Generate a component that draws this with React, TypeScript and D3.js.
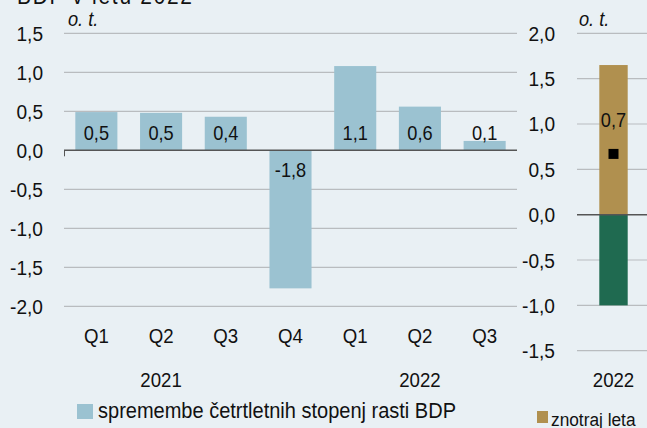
import { useEffect, useRef } from "react";
import * as d3 from "d3";

// quarterly changes of GDP growth rates
const quarters = ["Q1", "Q2", "Q3", "Q4", "Q1", "Q2", "Q3"];
const years = ["2021", "2022"];
const quarterValues = [0.49, 0.48, 0.43, -1.77, 1.08, 0.56, 0.12];
const quarterLabels = ["0,5", "0,5", "0,4", "-1,8", "1,1", "0,6", "0,1"];

// right panel: 2022 decomposition
const withinYear = 1.65;
const carryOver = -1.0;
const annualGrowth = 0.67;
const annualLabel = "0,7";

const leftTicks = [1.5, 1.0, 0.5, 0.0, -0.5, -1.0, -1.5, -2.0];
const rightTicks = [2.0, 1.5, 1.0, 0.5, 0.0, -0.5, -1.0, -1.5];

const W = 647;
const H = 428;
const FONT = "'Liberation Sans', Arial, sans-serif";
const SX = 0.91; // squeeze horizontally to mimic a narrow face
const fmt = (v: number) => d3.format(".1f")(v).replace(".", ",").replace("−", "-");

type Sel = d3.Selection<any, any, any, any>;

// text drawn narrow
function label(g: Sel, x: number, y: number, str: string, anchor = "start", size = 21, italic = false) {
    return g.append("text")
        .attr("transform", `translate(${x},${y}) scale(${SX},1)`)
        .attr("text-anchor", anchor)
        .attr("font-size", size)
        .attr("font-style", italic ? "italic" : "normal")
        .attr("fill", "#111")
        .text(str);
}

export default function App() {
    const svgRef = useRef<SVGSVGElement>(null);

    useEffect(() => {
        document.body.style.margin = "0";
        document.body.style.overflow = "hidden";

        const svg = d3.select(svgRef.current);
        svg.selectAll("*").remove();
        svg.style("font-family", FONT);

        svg.append("rect").attr("width", W).attr("height", H).attr("fill", "#e9f0f4");

        // title (cut at top)
        label(svg, 17, 4, "BDP  v letu 2022", "start", 23)
            .attr("textLength", 175 / SX)
            .attr("lengthAdjust", "spacing");

        // ---- left panel
        const x = d3.scaleBand<number>()
            .domain(d3.range(quarterValues.length))
            .range([64, 517])
            .paddingInner(0.35)
            .paddingOuter(0.175);
        const cx = (i: number) => x(i)! + x.bandwidth() / 2;

        const y = d3.scaleLinear().domain([-2, 1.5]).range([306.3, 33.3]);

        const gl = svg.append("g");
        gl.selectAll("line.grid")
            .data(leftTicks.filter((t) => t !== 0))
            .join("line")
            .attr("x1", 64).attr("x2", 517)
            .attr("y1", (d) => y(d)).attr("y2", (d) => y(d))
            .attr("stroke", "#b9bcbf").attr("stroke-width", 1.2);

        leftTicks.forEach((t) => label(gl, 43, y(t) + 7.5, fmt(t), "end"));

        gl.selectAll("rect.bar")
            .data(quarterValues)
            .join("rect")
            .attr("x", (_, i) => x(i)!)
            .attr("width", x.bandwidth())
            .attr("y", (d) => y(Math.max(0, d)))
            .attr("height", (d) => Math.abs(y(d) - y(0)))
            .attr("fill", "#9bc2d1");

        quarterValues.forEach((v, i) =>
            label(gl, cx(i), v >= 0 ? y(0) - 10 : y(0) + 27, quarterLabels[i], "middle", 20));

        gl.append("line")
            .attr("x1", 64).attr("x2", 517)
            .attr("y1", y(0)).attr("y2", y(0))
            .attr("stroke", "#555").attr("stroke-width", 1.5);
        gl.append("line")
            .attr("x1", 64.5).attr("x2", 64.5)
            .attr("y1", y(0)).attr("y2", y(0) + 6)
            .attr("stroke", "#555").attr("stroke-width", 1);

        quarters.forEach((q, i) => label(gl, cx(i), 343, q, "middle", 20.5));
        label(gl, cx(1), 387, years[0], "middle", 20.5);
        label(gl, cx(5), 387, years[1], "middle", 20.5);

        label(gl, 68, 26, "o. t.", "start", 20, true);

        // ---- right panel
        const y2 = d3.scaleLinear().domain([-1.5, 2]).range([350.7, 33.3]);
        const gr = svg.append("g");

        gr.selectAll("line.grid")
            .data(rightTicks.filter((t) => t !== 0))
            .join("line")
            .attr("x1", 577).attr("x2", W)
            .attr("y1", (d) => y2(d)).attr("y2", (d) => y2(d))
            .attr("stroke", "#b9bcbf").attr("stroke-width", 1.2);

        rightTicks.forEach((t) => label(gr, 555, y2(t) + 7.5, fmt(t), "end"));

        const bx = 599.3;
        const bw = 28.4;
        gr.append("rect")
            .attr("x", bx).attr("width", bw)
            .attr("y", y2(withinYear)).attr("height", y2(0) - y2(withinYear))
            .attr("fill", "#b0904f");
        gr.append("rect")
            .attr("x", bx).attr("width", bw)
            .attr("y", y2(0)).attr("height", y2(carryOver) - y2(0))
            .attr("fill", "#1f6a50");

        gr.append("line")
            .attr("x1", 577).attr("x2", W)
            .attr("y1", y2(0)).attr("y2", y2(0))
            .attr("stroke", "#555").attr("stroke-width", 1.5);

        gr.append("rect")
            .attr("x", bx + bw / 2 - 5).attr("y", y2(annualGrowth) - 5)
            .attr("width", 10).attr("height", 10)
            .attr("fill", "#000");

        label(gr, bx + bw / 2, y2(annualGrowth) - 27, annualLabel, "middle", 20);
        label(gr, 579, 26, "o. t.", "start", 20, true);
        label(gr, bx + bw / 2, 387, "2022", "middle", 20.5);

        // ---- legends
        svg.append("rect").attr("x", 77).attr("y", 404).attr("width", 16).attr("height", 15).attr("fill", "#9bc2d1");
        label(svg, 98, 418, "spremembe četrtletnih stopenj rasti BDP", "start", 22);

        svg.append("rect").attr("x", 537).attr("y", 411).attr("width", 11).attr("height", 12).attr("fill", "#b0904f");
        label(svg, 551, 426, "znotraj leta", "start", 19);
    }, []);

    return <svg ref={svgRef} width={W} height={H} style={{ display: "block" }} />;
}
